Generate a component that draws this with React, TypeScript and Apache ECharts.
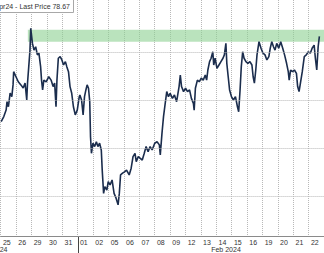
import React, { useEffect, useRef } from "react";
import * as echarts from "echarts";

// Day categories (trading days shown on the axis)
const dayLabels = ["25","26","29","30","31","01","02","05","06","07","08","09","12","13","14","15","16","19","20","21","22"];
const monthLabels = ["Jan 2024", "Feb 2024"];
const monthStartIndex = 5;
const legendText = "Apr24 - Last Price 78.67";

// Time in trading days since the start of 25 Jan, and price
const times = [0.04,0.21,0.36,0.42,0.51,0.62,0.73,0.81,0.85,1.00,1.15,1.32,1.47,1.59,1.70,1.75,1.83,1.91,1.96,2.07,2.17,2.28,2.39,2.49,2.60,2.66,2.73,2.81,2.96,3.13,3.28,3.41,3.51,3.60,3.66,3.75,3.87,3.98,4.09,4.21,4.30,4.41,4.51,4.62,4.73,4.85,4.98,5.11,5.15,5.26,5.36,5.45,5.54,5.62,5.71,5.79,5.84,5.90,6.00,6.11,6.22,6.32,6.43,6.54,6.60,6.69,6.77,6.90,6.99,7.11,7.24,7.37,7.50,7.63,7.71,7.79,7.92,8.05,8.18,8.35,8.48,8.60,8.73,8.81,8.94,9.07,9.20,9.33,9.45,9.58,9.71,9.84,10.01,10.16,10.31,10.37,10.48,10.58,10.69,10.79,10.90,11.01,11.16,11.29,11.43,11.59,11.67,11.75,11.88,12.01,12.14,12.27,12.39,12.52,12.57,12.65,12.78,12.90,13.03,13.16,13.29,13.38,13.46,13.57,13.67,13.78,13.84,13.93,14.05,14.18,14.31,14.44,14.53,14.63,14.69,14.78,14.87,14.99,15.12,15.25,15.38,15.46,15.55,15.63,15.72,15.81,15.93,16.06,16.19,16.32,16.40,16.48,16.57,16.65,16.78,16.91,17.04,17.17,17.29,17.42,17.51,17.61,17.72,17.82,17.93,18.06,18.19,18.32,18.44,18.57,18.68,18.74,18.83,18.96,19.08,19.21,19.29,19.38,19.47,19.59,19.72,19.85,19.98,20.11,20.23,20.36,20.44,20.53,20.62,20.70];
const prices = [75.12,75.33,75.60,75.95,75.74,76.31,76.16,76.65,77.20,76.99,76.78,76.65,76.52,76.73,76.02,76.73,77.41,78.10,79.01,78.38,78.10,78.24,77.90,77.97,77.41,76.85,76.44,76.85,76.78,76.99,76.85,76.58,76.73,75.74,76.85,77.76,77.83,77.69,77.48,77.62,77.41,77.20,76.58,76.30,75.74,75.40,75.60,76.16,76.23,76.02,75.40,76.16,76.44,76.65,76.51,75.95,74.49,73.80,74.22,74.08,74.28,74.08,74.22,73.94,73.10,72.13,72.41,72.27,72.62,72.48,72.69,72.13,71.93,71.65,72.13,72.90,72.97,73.03,73.10,72.90,73.18,73.66,73.80,73.45,73.66,73.59,73.52,73.80,74.08,73.87,74.08,73.94,74.22,74.28,74.15,73.73,74.63,75.33,75.88,76.37,76.16,76.30,76.09,76.23,75.95,76.58,77.06,76.58,76.37,76.51,76.37,76.44,76.09,75.88,75.60,76.51,76.85,76.78,76.93,76.85,77.06,76.85,77.27,77.62,77.76,78.03,77.48,77.76,77.34,77.48,77.62,77.76,77.90,78.38,77.55,76.99,76.44,76.16,76.02,76.16,75.74,75.53,76.44,77.41,78.03,77.76,77.62,77.55,77.62,77.48,76.99,76.72,77.27,77.90,78.45,78.18,77.97,77.90,77.69,77.83,78.18,78.45,78.24,78.10,78.38,78.18,78.45,78.18,77.90,77.55,77.20,76.85,77.27,77.20,77.27,77.13,76.58,76.37,76.72,77.20,77.83,77.90,78.03,77.97,78.18,78.31,77.76,77.27,78.24,78.67];

// Horizontal grid levels and highlighted price zone
const gridLevels = [72, 74, 76, 78];
const zoneLow = 78.45;
const zoneHigh = 78.95;
const zoneStart = 1.77;
const zoneEnd = 21;

export default function App() {
  const ref = useRef<HTMLDivElement>(null);
  useEffect(() => {
    if (!ref.current) return;
    const chart = echarts.init(ref.current, null, { renderer: "svg" });
    const font = "Liberation Sans";
    chart.setOption({
      animation: false,
      textStyle: { fontFamily: font },
      grid: { left: -0.65, top: 0, width: 328.65, bottom: 17, containLabel: false },
      xAxis: [
        {
          type: "category",
          data: dayLabels,
          boundaryGap: true,
          position: "bottom",
          axisLine: { show: true, lineStyle: { color: "#8a8a8a", width: 1 } },
          axisTick: { show: false },
          axisLabel: {
            interval: 0,
            fontSize: 7,
            color: "#333",
            fontFamily: font,
            margin: 3,
            padding: [0, 3, 0, 0],
          },
          splitLine: {
            show: true,
            interval: 0,
            lineStyle: { color: "#b8b8b8", type: "dotted", width: 1 },
          },
        },
        {
          type: "value",
          min: 0,
          max: 21,
          show: false,
        },
      ],
      yAxis: {
        type: "value",
        min: 70.354,
        max: 80.1875,
        show: false,
        splitLine: { show: false },
      },
      series: [
        {
          type: "line",
          xAxisIndex: 1,
          data: times.map((t, i) => [t, prices[i]]),
          showSymbol: false,
          symbol: "none",
          lineStyle: { color: "#1b2d4d", width: 1.6 },
          z: 3,
          markLine: {
            silent: true,
            symbol: "none",
            label: { show: false },
            lineStyle: { color: "#b8b8b8", type: "dotted", width: 1 },
            data: gridLevels.map((v) => ({ yAxis: v })),
          },
          markArea: {
            silent: true,
            itemStyle: { color: "rgba(140, 208, 145, 0.6)" },
            data: [[{ xAxis: zoneStart, yAxis: zoneLow }, { xAxis: zoneEnd, yAxis: zoneHigh }]],
          },
        },
      ],
      graphic: [
        {
          type: "rect",
          shape: { x: -10, y: -2, width: 83.5, height: 14.5 },
          style: { fill: "#ffffff", stroke: "#a8a8a8", lineWidth: 1 },
          z: 10,
        },
        {
          type: "text",
          x: 70,
          y: 6.5,
          style: {
            text: legendText,
            align: "right",
            verticalAlign: "middle",
            fontSize: 7,
            fontFamily: font,
            fill: "#333",
          },
          z: 11,
        },
        {
          type: "text",
          x: 7.5,
          y: 249,
          style: { text: monthLabels[0], align: "right", verticalAlign: "middle", fontSize: 7, fontFamily: font, fill: "#333" },
        },
        {
          type: "text",
          x: 226,
          y: 249,
          style: { text: monthLabels[1], align: "center", verticalAlign: "middle", fontSize: 7, fontFamily: font, fill: "#333" },
        },
      ],
    });
    // month separator below the axis, at the boundary before the first Feb day
    const sepX = chart.convertToPixel({ xAxisIndex: 1 }, monthStartIndex) as number;
    const axisY = chart.convertToPixel({ yAxisIndex: 0 }, 70.354) as number;
    chart.setOption({
      graphic: [
        {
          type: "line",
          id: "monthSep",
          shape: { x1: Math.round(sepX) + 0.5, y1: axisY, x2: Math.round(sepX) + 0.5, y2: 253 },
          style: { stroke: "#444", lineWidth: 1 },
        },
      ],
    });
    return () => chart.dispose();
  }, []);
  return (
    <div
      ref={ref}
      style={{ position: "fixed", left: 0, top: 0, width: 324, height: 253, background: "#fff" }}
    />
  );
}
